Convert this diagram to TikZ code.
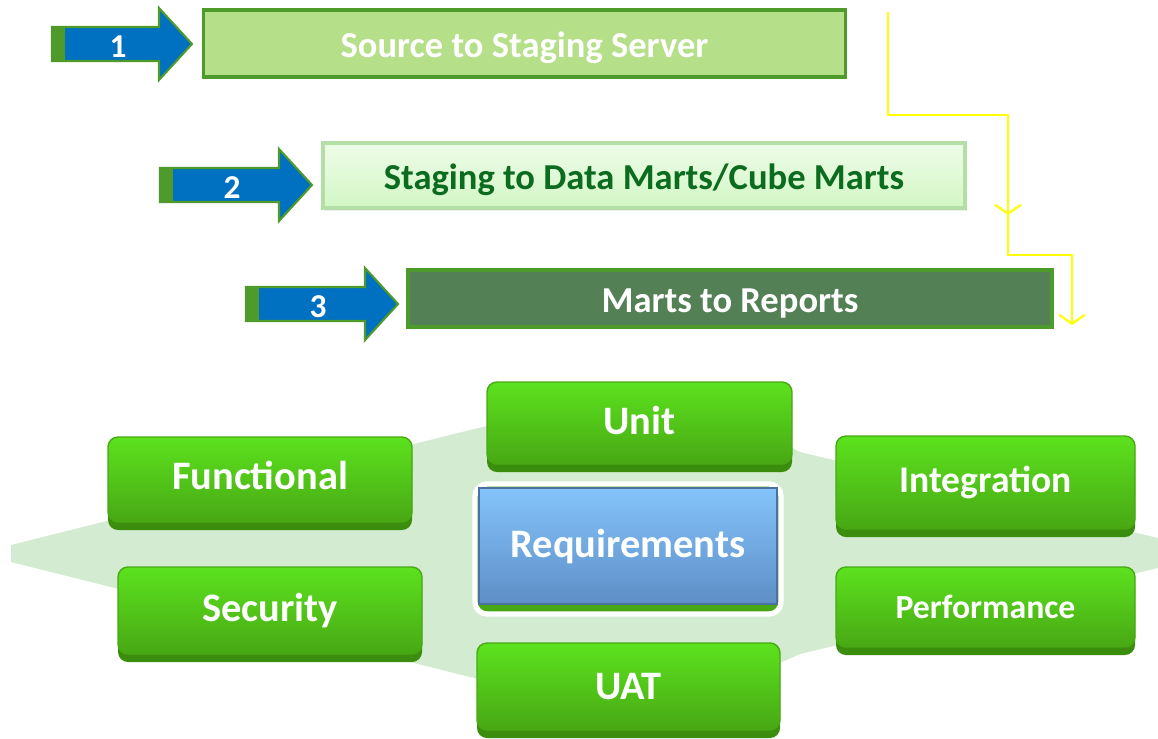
\documentclass[tikz,border=0pt]{standalone}
\usepackage{fontspec}
\setmainfont{Carlito}
\usetikzlibrary{arrows.meta,shadows}

\definecolor{arrowblue}{HTML}{0070C0}
\definecolor{arrowgreen}{HTML}{4E9A2A}
\definecolor{srcfill}{HTML}{B5DF89}
\definecolor{stgtop}{HTML}{EEFCE8}
\definecolor{stgbot}{HTML}{D2F7C4}
\definecolor{stgline}{HTML}{B3DEA6}
\definecolor{stgtext}{HTML}{0B6B1E}
\definecolor{repfill}{HTML}{548055}
\definecolor{flowyellow}{HTML}{FFFF00}
\definecolor{bandgreen}{HTML}{D3EBD0}
\definecolor{testtop}{HTML}{5CE21E}
\definecolor{testbot}{HTML}{48A814}
\definecolor{testdark}{HTML}{3B8E0D}
\definecolor{reqtop}{HTML}{84C4FB}
\definecolor{reqbot}{HTML}{5E8EC6}

\begin{document}
\begin{tikzpicture}[
    stagebox/.style={line width=0.9pt, minimum width=6.42cm, inner ysep=0.05cm, text height=0.355cm, text depth=0.07cm,
        font=\bfseries\fontsize{10.4}{12}\selectfont},
    numlabel/.style={text=white, font=\bfseries\fontsize{9.5}{11}\selectfont},
    testbox/.style={rounded corners=0.1cm, top color=testtop, bottom color=testbot, draw=testbot,
        minimum width=3.04cm, text=white, font=\bfseries\fontsize{11.5}{13}\selectfont,
        drop shadow={shadow xshift=0cm, shadow yshift=-0.08cm, fill=testdark, opacity=1}},
    flowline/.style={draw=flowyellow, line width=0.6pt}
  ]
    \useasboundingbox (0,0) rectangle (11.58,7.38);

    % block arrows
    \foreach \x/\y/\l/\n in {0.52/6.94/1.40/1, 1.60/5.53/1.52/2, 2.46/4.34/1.52/3} {
        \draw[arrowgreen, line width=0.6pt, fill=arrowblue] (\x,\y-0.17) -- (\x+\l-0.33,\y-0.17) -- (\x+\l-0.33,\y-0.36)
            -- (\x+\l,\y) -- (\x+\l-0.33,\y+0.36) -- (\x+\l-0.33,\y+0.17) -- (\x,\y+0.17) -- cycle;
        \fill[arrowgreen] (\x,\y-0.17) rectangle ++(0.13,0.34);
        \node[numlabel] (num\n) at (\x+\l/2-0.04,\y-0.03) {\n};
    }

    % stages
    \node[stagebox, draw=arrowgreen, fill=srcfill, minimum height=0.67cm, text=white] (src) at (5.245,6.945) {Source to Staging Server};
    \node[stagebox, draw=stgline, top color=stgtop, bottom color=stgbot, minimum height=0.65cm, text=stgtext,
        drop shadow={shadow xshift=0.02cm, shadow yshift=-0.03cm, opacity=0.15}] (stg) at (6.44,5.625) {Staging to Data Marts/Cube Marts};
    \node[stagebox, draw=arrowgreen, fill=repfill, minimum width=6.44cm, minimum height=0.57cm, text=white] (rep) at (7.30,4.395) {Marts to Reports};

    % yellow flow
    \coordinate (flowstart) at (8.88,7.26);
    \coordinate (midtip) at (10.08,5.23);
    \coordinate (endtip) at (10.72,4.13);
    \draw[flowline, -{Straight Barb[length=0.9mm,width=2.6mm]}] (flowstart) -- ++(0,-1.03) -| (midtip);
    \draw[flowline, -{Straight Barb[length=0.9mm,width=2.6mm]}] (midtip) -- ++(0,-0.40) -| (endtip);

    % background band
    \fill[bandgreen] (0.11,1.93) -- (4.70,3.08) .. controls (5.8,3.35) and (7.2,3.3) .. (8.00,2.86) -- (11.58,2.00)
        -- (11.58,1.70) -- (8.00,0.84) .. controls (7.2,0.45) and (5.8,0.40) .. (4.70,0.61) -- (0.11,1.76) -- cycle;

    % test types
    \node[testbox, minimum height=0.85cm, text depth=0.08cm] (func) at (2.60,2.585) {Functional};
    \node[testbox, minimum width=3.05cm, minimum height=0.82cm, text depth=0.06cm] (unit) at (6.395,3.15) {Unit};
    \node[testbox, minimum width=2.99cm, minimum height=0.93cm, font=\bfseries\fontsize{10.7}{12}\selectfont] (integ) at (9.855,2.555) {Integration};
    \node[testbox, minimum height=0.87cm] (sec) at (2.70,1.275) {Security};
    \node[testbox, minimum width=2.99cm, minimum height=0.80cm, font=\bfseries\fontsize{9.6}{12}\selectfont] (perf) at (9.855,1.31) {Performance};
    \node[testbox, minimum width=3.03cm, minimum height=0.87cm] (uat) at (6.285,0.515) {UAT};

    % requirements
    \draw[white, line width=1.5pt, fill=testbot, rounded corners=0.12cm] (4.75,1.24) rectangle (7.81,2.54);
    \node[top color=reqtop, bottom color=reqbot, draw=reqbot!80!black, line width=0.3pt, minimum width=2.98cm,
        minimum height=1.16cm, text=white, font=\bfseries\fontsize{11.5}{13}\selectfont] (req) at (6.28,1.92) {Requirements};
\end{tikzpicture}
\end{document}
